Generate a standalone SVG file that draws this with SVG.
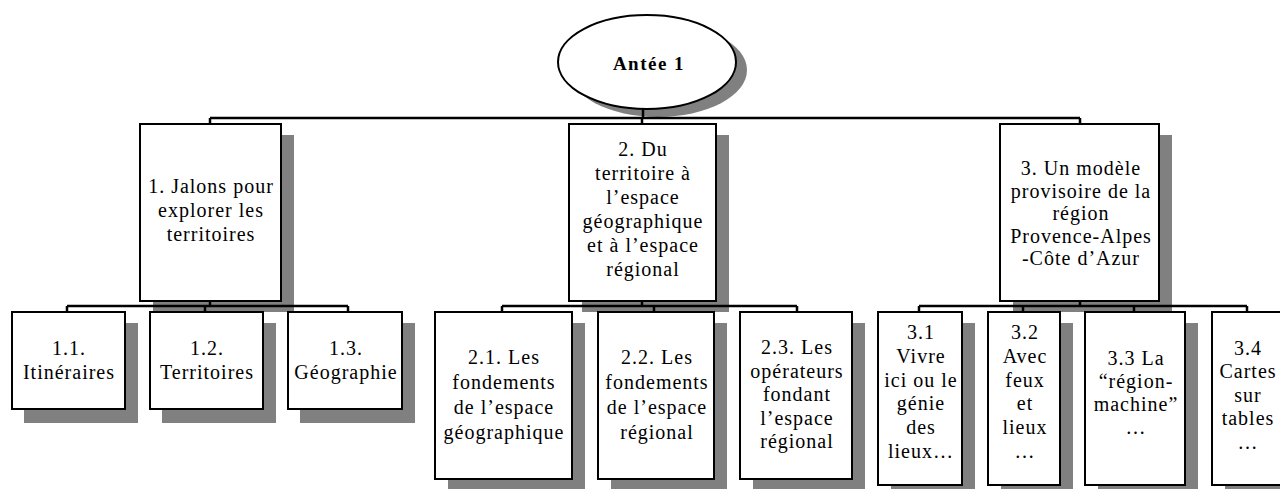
<svg xmlns="http://www.w3.org/2000/svg" width="1280" height="489" viewBox="0 0 1280 489">
<style>
.sh{fill:#808080}
.bx{fill:#fff;stroke:#000;stroke-width:2}
.t{font-family:"Liberation Serif","Times New Roman",serif;font-size:20px;letter-spacing:1px;text-anchor:middle;fill:#000}
.tb{font-weight:bold;font-size:19px;letter-spacing:1.5px}
.c{stroke:#000;stroke-width:2.5;fill:none}
</style>
<rect width="1280" height="489" fill="#fff"/>
<g id="root">
<ellipse class="sh" cx="658" cy="70" rx="89" ry="47"/>
<ellipse class="bx" cx="647" cy="62" rx="89" ry="47"/>
<text class="t tb" x="649" y="70">Antée 1</text>
</g>
<g id="n1">
<rect class="sh" x="153" y="135" width="141" height="177"/>
<rect class="bx" x="140" y="124" width="141" height="177"/>
<text class="t" x="211" y="193">1. Jalons pour</text>
<text class="t" x="211" y="217">explorer les</text>
<text class="t" x="211" y="241">territoires</text>
</g>
<g id="n2">
<rect class="sh" x="582" y="135" width="147" height="177"/>
<rect class="bx" x="569" y="124" width="147" height="177"/>
<text class="t" x="643" y="156">2.  Du</text>
<text class="t" x="643" y="180">territoire à</text>
<text class="t" x="643" y="204">l’espace</text>
<text class="t" x="643" y="228">géographique</text>
<text class="t" x="643" y="252">et à l’espace</text>
<text class="t" x="643" y="276">régional</text>
</g>
<g id="n3">
<rect class="sh" x="1013" y="135" width="159" height="177"/>
<rect class="bx" x="1000" y="124" width="159" height="177"/>
<text class="t" x="1081" y="175">3.  Un modèle</text>
<text class="t" x="1081" y="197.5">provisoire de la</text>
<text class="t" x="1081" y="220">région</text>
<text class="t" x="1081" y="242.5">Provence-Alpes</text>
<text class="t" x="1081" y="265">-Côte d’Azur</text>
</g>
<g id="n11">
<rect class="sh" x="24" y="323" width="114" height="100"/>
<rect class="bx" x="12" y="312" width="113" height="97"/>
<text class="t" x="69" y="355">1.1.</text>
<text class="t" x="69" y="379">Itinéraires</text>
</g>
<g id="n12">
<rect class="sh" x="162" y="323" width="114" height="100"/>
<rect class="bx" x="150" y="312" width="113" height="97"/>
<text class="t" x="207" y="355">1.2.</text>
<text class="t" x="207" y="379">Territoires</text>
</g>
<g id="n13">
<rect class="sh" x="300" y="323" width="115" height="100"/>
<rect class="bx" x="288" y="312" width="114" height="97"/>
<text class="t" x="346" y="355">1.3.</text>
<text class="t" x="346" y="379">Géographie</text>
</g>
<g id="n21">
<rect class="sh" x="448" y="323" width="137" height="167"/>
<rect class="bx" x="435" y="312" width="137" height="167"/>
<text class="t" x="504" y="364">2.1.  Les</text>
<text class="t" x="504" y="389">fondements</text>
<text class="t" x="504" y="414">de l’espace</text>
<text class="t" x="504" y="439">géographique</text>
</g>
<g id="n22">
<rect class="sh" x="611" y="323" width="116" height="167"/>
<rect class="bx" x="598" y="312" width="116" height="167"/>
<text class="t" x="657" y="364">2.2.  Les</text>
<text class="t" x="657" y="389">fondements</text>
<text class="t" x="657" y="414">de l’espace</text>
<text class="t" x="657" y="439">régional</text>
</g>
<g id="n23">
<rect class="sh" x="753" y="323" width="112" height="167"/>
<rect class="bx" x="740" y="312" width="112" height="167"/>
<text class="t" x="797" y="354">2.3.  Les</text>
<text class="t" x="797" y="377.5">opérateurs</text>
<text class="t" x="797" y="401">fondant</text>
<text class="t" x="797" y="424.5">l’espace</text>
<text class="t" x="797" y="448">régional</text>
</g>
<g id="n31">
<rect class="sh" x="891" y="323" width="84" height="173"/>
<rect class="bx" x="878" y="312" width="84" height="173"/>
<text class="t" x="921" y="339">3.1</text>
<text class="t" x="921" y="363">Vivre</text>
<text class="t" x="921" y="387">ici ou le</text>
<text class="t" x="921" y="410">génie</text>
<text class="t" x="921" y="434">des</text>
<text class="t" x="921" y="458">lieux…</text>
</g>
<g id="n32">
<rect class="sh" x="1001" y="323" width="72" height="173"/>
<rect class="bx" x="988" y="312" width="72" height="173"/>
<text class="t" x="1025" y="339">3.2</text>
<text class="t" x="1025" y="363">Avec</text>
<text class="t" x="1025" y="387">feux</text>
<text class="t" x="1025" y="410">et</text>
<text class="t" x="1025" y="434">lieux</text>
<text class="t" x="1025" y="458">…</text>
</g>
<g id="n33">
<rect class="sh" x="1098" y="323" width="100" height="173"/>
<rect class="bx" x="1085" y="312" width="100" height="173"/>
<text class="t" x="1136" y="365">3.3 La</text>
<text class="t" x="1136" y="388">“région-</text>
<text class="t" x="1136" y="411">machine”</text>
<text class="t" x="1136" y="434">…</text>
</g>
<g id="n34">
<rect class="sh" x="1225" y="323" width="70" height="173"/>
<rect class="bx" x="1212" y="312" width="70" height="173"/>
<text class="t" x="1248" y="355">3.4</text>
<text class="t" x="1248" y="378">Cartes</text>
<text class="t" x="1248" y="402">sur</text>
<text class="t" x="1248" y="425">tables</text>
<text class="t" x="1248" y="449">…</text>
</g>
<g id="connectors" class="c">
<path d="M643 109V118M210 118H1080M210 118V124M642 118V124M1080 118V124"/>
<path d="M210 301V306M67 306H348M67 306V312M205 306V312M348 306V312"/>
<path d="M642 301V306M502 306H797M502 306V312M654 306V312M797 306V312"/>
<path d="M1080 301V306M919 306H1247M919 306V312M1023 306V312M1134 306V312M1247 306V312"/>
</g>
</svg>
